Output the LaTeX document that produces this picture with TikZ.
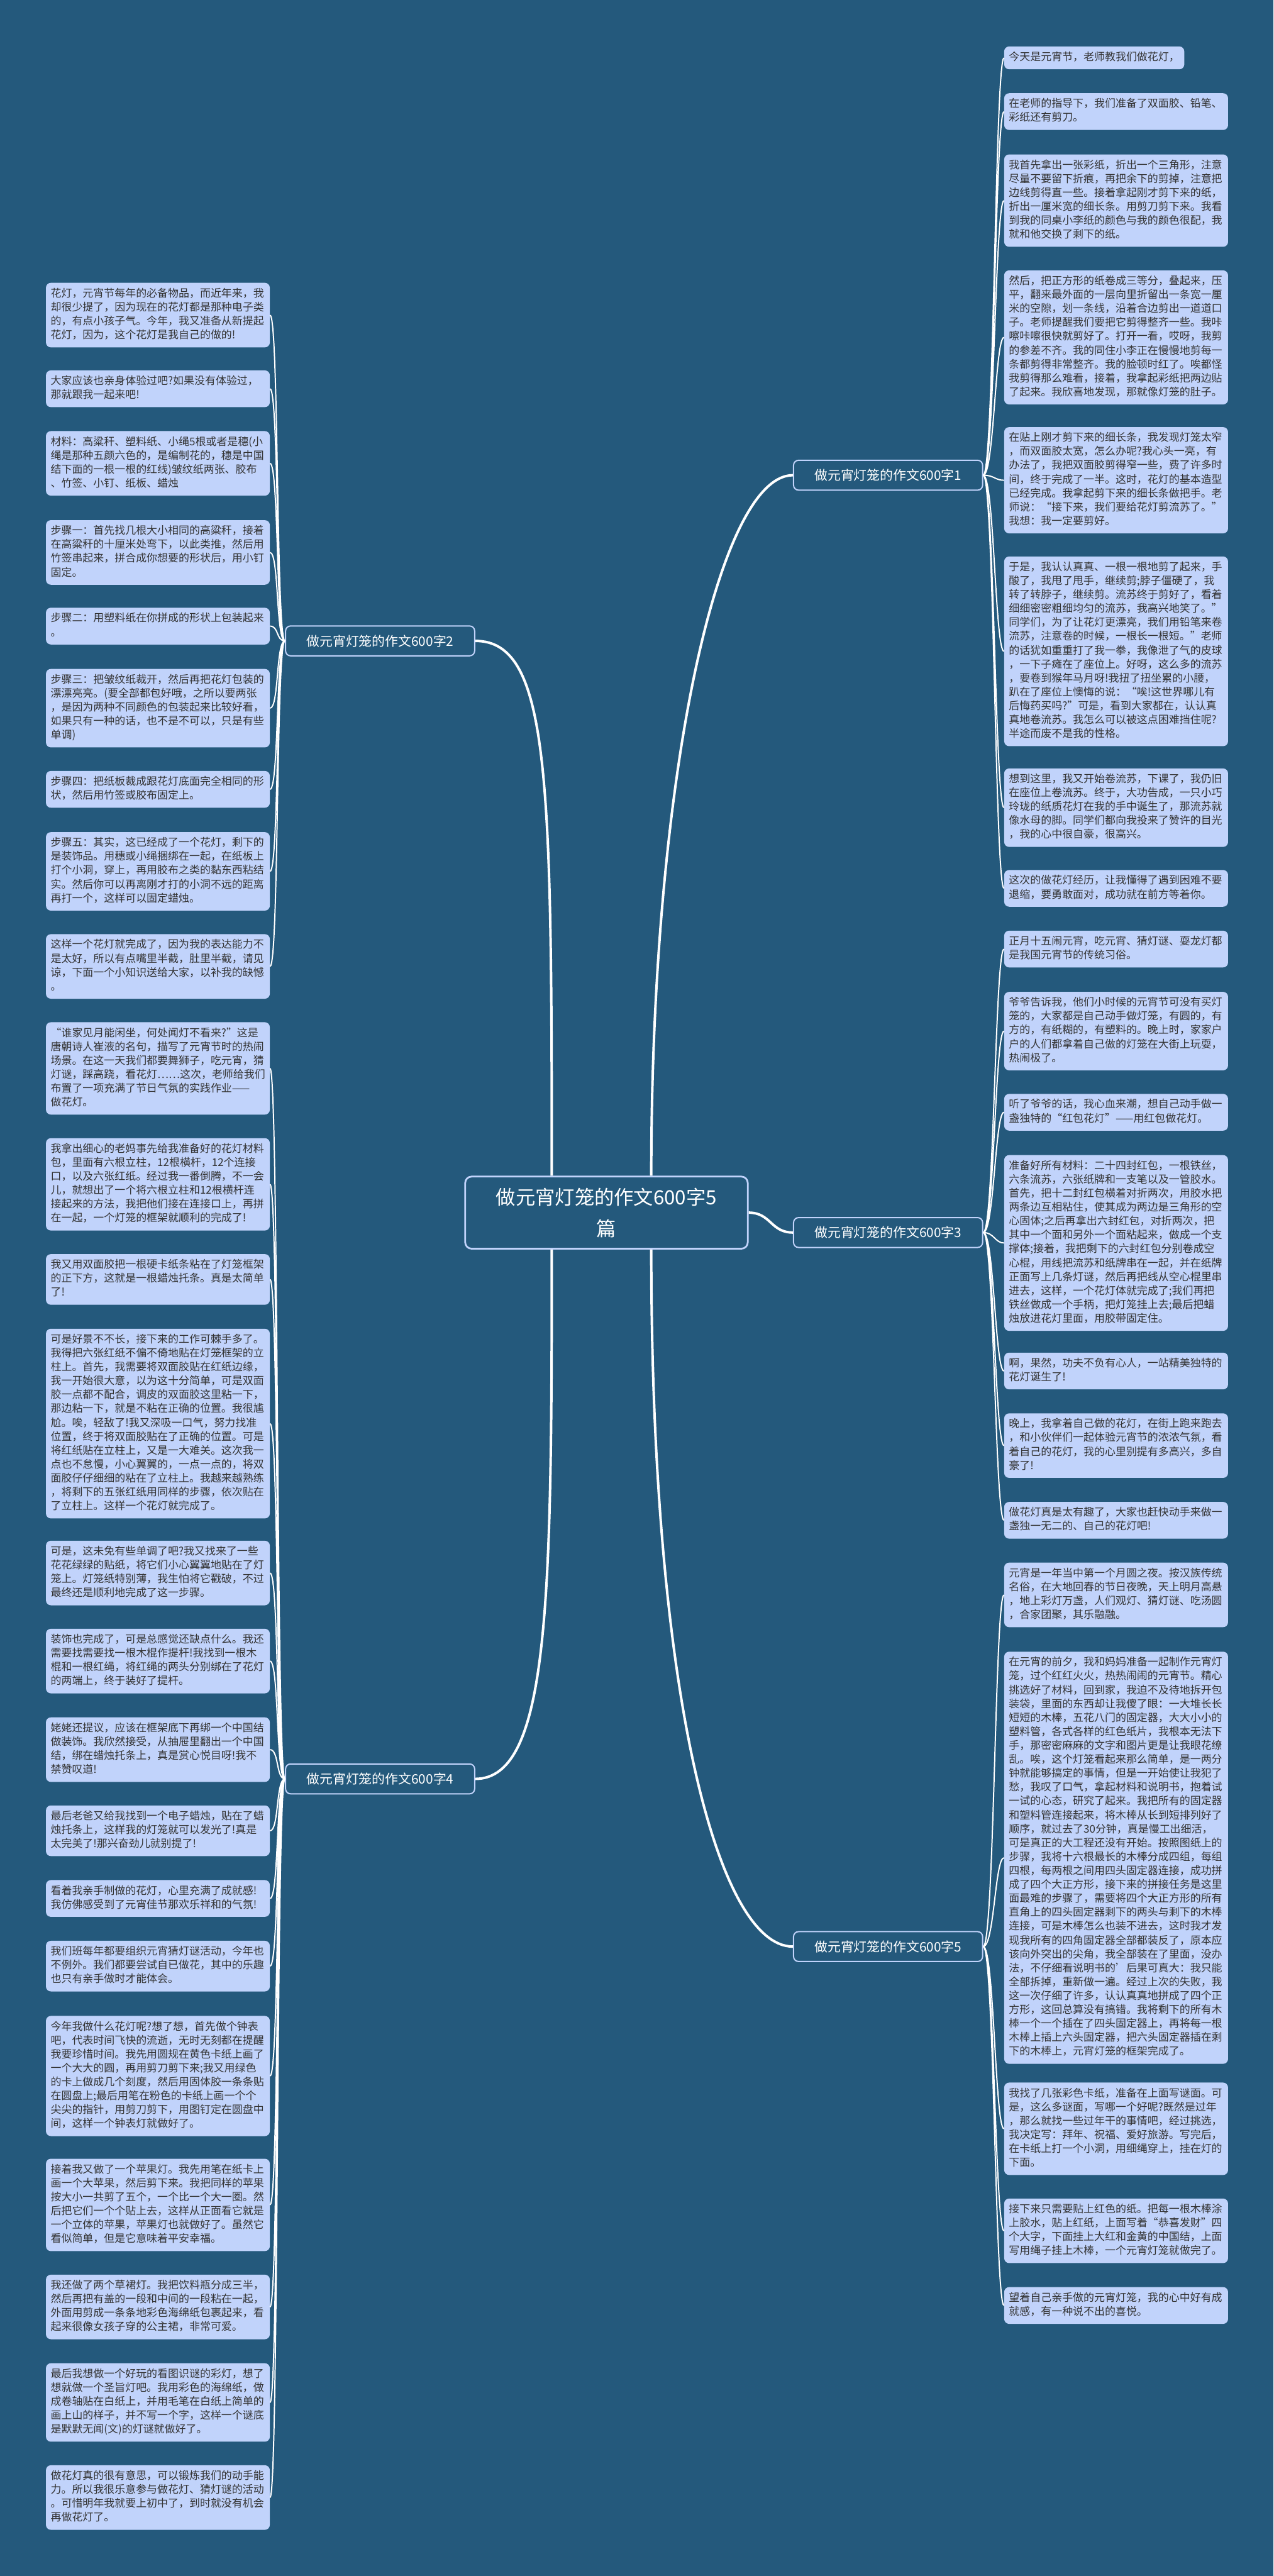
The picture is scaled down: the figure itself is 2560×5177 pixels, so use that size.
\documentclass[tikz,border=0pt]{standalone}
\usepackage{fontspec}
\setmainfont{Noto Sans CJK SC}
\usepackage{xcolor}
\usepackage{tikz}
\usetikzlibrary{positioning}

\definecolor{bgblue}{RGB}{36,89,124}
\definecolor{paperblue}{RGB}{193,211,251}
\definecolor{inkgray}{RGB}{51,51,51}

\begin{document}
\begin{tikzpicture}[
    x=0.2mm, y=-0.2mm,
    root/.style={draw=paperblue, line width=0.7mm, fill=bgblue, rounded corners=2.6mm,
                 text=white, align=center, font=\fontsize{22.5}{35.9}\selectfont,
                 minimum width=113.6mm, minimum height=29mm},
    essay/.style={draw=paperblue, line width=0.5mm, fill=bgblue, rounded corners=2mm,
                  text=white, font=\fontsize{15}{18}\selectfont,
                  minimum width=76mm, minimum height=12mm},
    para/.style={fill=paperblue, rounded corners=2mm, text=inkgray, anchor=north west,
                 font=\fontsize{12.2}{15.9}\selectfont, align=left,
                 text width=86.2mm, inner xsep=1.9mm, inner ysep=1.8mm,
                 execute at begin node=\strut, execute at end node=\strut},
    bough/.style={draw=white, line width=1mm},
    twig/.style={draw=white, line width=0.5mm}
  ]
  \fill[bgblue] (0,0) rectangle (2560,5177);
  \useasboundingbox (0,0) rectangle (2560,5177);

  \node[root] (root) at (1219,2437) {做元宵灯笼的作文600字5\\篇};
  \node[essay] (e1) at (1785,955) {做元宵灯笼的作文600字1};
  \node[essay] (e2) at (764,1288) {做元宵灯笼的作文600字2};
  \node[essay] (e3) at (1785,2477) {做元宵灯笼的作文600字3};
  \node[essay] (e4) at (764,3575) {做元宵灯笼的作文600字4};
  \node[essay] (e5) at (1785,3912) {做元宵灯笼的作文600字5};

  \node[para, text width=68.6mm] (e1p1) at (2018,93) {今天是元宵节，老师教我们做花灯，};
  \node[para] (e1p2) at (2018,187) {在老师的指导下，我们准备了双面胶、铅笔、\\
    彩纸还有剪刀。};
  \node[para] (e1p3) at (2018,310) {我首先拿出一张彩纸，折出一个三角形，注意\\
    尽量不要留下折痕，再把余下的剪掉，注意把\\
    边线剪得直一些。接着拿起刚才剪下来的纸，\\
    折出一厘米宽的细长条。用剪刀剪下来。我看\\
    到我的同桌小李纸的颜色与我的颜色很配，我\\
    就和他交换了剩下的纸。};
  \node[para] (e1p4) at (2018,543) {然后，把正方形的纸卷成三等分，叠起来，压\\
    平，翻来最外面的一层向里折留出一条宽一厘\\
    米的空隙，划一条线，沿着合边剪出一道道口\\
    子。老师提醒我们要把它剪得整齐一些。我咔\\
    嚓咔嚓很快就剪好了。打开一看，哎呀，我剪\\
    的参差不齐。我的同住小李正在慢慢地剪每一\\
    条都剪得非常整齐。我的脸顿时红了。唉都怪\\
    我剪得那么难看，接着，我拿起彩纸把两边贴\\
    了起来。我欣喜地发现，那就像灯笼的肚子。};
  \node[para] (e1p5) at (2018,858) {在贴上刚才剪下来的细长条，我发现灯笼太窄\\
    ，而双面胶太宽，怎么办呢?我心头一亮，有\\
    办法了，我把双面胶剪得窄一些，费了许多时\\
    间，终于完成了一半。这时，花灯的基本造型\\
    已经完成。我拿起剪下来的细长条做把手。老\\
    师说：“接下来，我们要给花灯剪流苏了。”\\
    我想：我一定要剪好。};
  \node[para] (e1p6) at (2018,1118) {于是，我认认真真、一根一根地剪了起来，手\\
    酸了，我甩了甩手，继续剪;脖子僵硬了，我\\
    转了转脖子，继续剪。流苏终于剪好了，看着\\
    细细密密粗细均匀的流苏，我高兴地笑了。”\\
    同学们，为了让花灯更漂亮，我们用铅笔来卷\\
    流苏，注意卷的时候，一根长一根短。”老师\\
    的话犹如重重打了我一拳，我像泄了气的皮球\\
    ，一下子瘫在了座位上。好呀，这么多的流苏\\
    ，要卷到猴年马月呀!我扭了扭坐累的小腰，\\
    趴在了座位上懊悔的说：“唉!这世界哪儿有\\
    后悔药买吗?”可是，看到大家都在，认认真\\
    真地卷流苏。我怎么可以被这点困难挡住呢?\\
    半途而废不是我的性格。};
  \node[para] (e1p7) at (2018,1544) {想到这里，我又开始卷流苏，下课了，我仍旧\\
    在座位上卷流苏。终于，大功告成，一只小巧\\
    玲珑的纸质花灯在我的手中诞生了，那流苏就\\
    像水母的脚。同学们都向我投来了赞许的目光\\
    ，我的心中很自豪，很高兴。};
  \node[para] (e1p8) at (2018,1748) {这次的做花灯经历，让我懂得了遇到困难不要\\
    退缩，要勇敢面对，成功就在前方等着你。};

  \node[para] (e2p1) at (92,568) {花灯，元宵节每年的必备物品，而近年来，我\\
    却很少提了，因为现在的花灯都是那种电子类\\
    的，有点小孩子气。今年，我又准备从新提起\\
    花灯，因为，这个花灯是我自己的做的!};
  \node[para] (e2p2) at (92,744) {大家应该也亲身体验过吧?如果没有体验过，\\
    那就跟我一起来吧!};
  \node[para] (e2p3) at (92,866) {材料：高粱秆、塑料纸、小绳5根或者是穗(小\\
    绳是那种五颜六色的，是编制花的，穗是中国\\
    结下面的一根一根的红线)皱纹纸两张、胶布\\
    、竹签、小钉、纸板、蜡烛};
  \node[para] (e2p4) at (92,1045) {步骤一：首先找几根大小相同的高粱秆，接着\\
    在高粱秆的十厘米处弯下，以此类推，然后用\\
    竹签串起来，拼合成你想要的形状后，用小钉\\
    固定。};
  \node[para] (e2p5) at (92,1221) {步骤二：用塑料纸在你拼成的形状上包装起来\\
    。};
  \node[para] (e2p6) at (92,1344) {步骤三：把皱纹纸裁开，然后再把花灯包装的\\
    漂漂亮亮。(要全部都包好哦，之所以要两张\\
    ，是因为两种不同颜色的包装起来比较好看，\\
    如果只有一种的话，也不是不可以，只是有些\\
    单调)};
  \node[para] (e2p7) at (92,1549) {步骤四：把纸板裁成跟花灯底面完全相同的形\\
    状，然后用竹签或胶布固定上。};
  \node[para] (e2p8) at (92,1672) {步骤五：其实，这已经成了一个花灯，剩下的\\
    是装饰品。用穗或小绳捆绑在一起，在纸板上\\
    打个小洞，穿上，再用胶布之类的黏东西粘结\\
    实。然后你可以再离刚才打的小洞不远的距离\\
    再打一个，这样可以固定蜡烛。};
  \node[para] (e2p9) at (92,1877) {这样一个花灯就完成了，因为我的表达能力不\\
    是太好，所以有点嘴里半截，肚里半截，请见\\
    谅，下面一个小知识送给大家，以补我的缺憾\\
    。};

  \node[para] (e3p1) at (2018,1870) {正月十五闹元宵，吃元宵、猜灯谜、耍龙灯都\\
    是我国元宵节的传统习俗。};
  \node[para] (e3p2) at (2018,1993) {爷爷告诉我，他们小时候的元宵节可没有买灯\\
    笼的，大家都是自己动手做灯笼，有圆的，有\\
    方的，有纸糊的，有塑料的。晚上时，家家户\\
    户的人们都拿着自己做的灯笼在大街上玩耍，\\
    热闹极了。};
  \node[para] (e3p3) at (2018,2198) {听了爷爷的话，我心血来潮，想自己动手做一\\
    盏独特的“红包花灯”——用红包做花灯。};
  \node[para] (e3p4) at (2018,2321) {准备好所有材料：二十四封红包，一根铁丝，\\
    六条流苏，六张纸牌和一支笔以及一管胶水。\\
    首先，把十二封红包横着对折两次，用胶水把\\
    两条边互相粘住，使其成为两边是三角形的空\\
    心固体;之后再拿出六封红包，对折两次，把\\
    其中一个面和另外一个面粘起来，做成一个支\\
    撑体;接着，我把剩下的六封红包分别卷成空\\
    心棍，用线把流苏和纸牌串在一起，并在纸牌\\
    正面写上几条灯谜，然后再把线从空心棍里串\\
    进去，这样，一个花灯体就完成了;我们再把\\
    铁丝做成一个手柄，把灯笼挂上去;最后把蜡\\
    烛放进花灯里面，用胶带固定住。};
  \node[para] (e3p5) at (2018,2718) {啊，果然，功夫不负有心人，一站精美独特的\\
    花灯诞生了!};
  \node[para] (e3p6) at (2018,2840) {晚上，我拿着自己做的花灯，在街上跑来跑去\\
    ，和小伙伴们一起体验元宵节的浓浓气氛，看\\
    着自己的花灯，我的心里别提有多高兴，多自\\
    豪了!};
  \node[para] (e3p7) at (2018,3018) {做花灯真是太有趣了，大家也赶快动手来做一\\
    盏独一无二的、自己的花灯吧!};

  \node[para] (e4p1) at (92,2054) {“谁家见月能闲坐，何处闻灯不看来?”这是\\
    唐朝诗人崔液的名句，描写了元宵节时的热闹\\
    场景。在这一天我们都要舞狮子，吃元宵，猜\\
    灯谜，踩高跷，看花灯……这次，老师给我们\\
    布置了一项充满了节日气氛的实践作业——\\
    做花灯。};
  \node[para] (e4p2) at (92,2287) {我拿出细心的老妈事先给我准备好的花灯材料\\
    包，里面有六根立柱，12根横杆，12个连接\\
    口，以及六张红纸。经过我一番倒腾，不一会\\
    儿，就想出了一个将六根立柱和12根横杆连\\
    接起来的方法，我把他们接在连接口上，再拼\\
    在一起，一个灯笼的框架就顺利的完成了!};
  \node[para] (e4p3) at (92,2520) {我又用双面胶把一根硬卡纸条粘在了灯笼框架\\
    的正下方，这就是一根蜡烛托条。真是太简单\\
    了!};
  \node[para] (e4p4) at (92,2670) {可是好景不不长，接下来的工作可棘手多了。\\
    我得把六张红纸不偏不倚地贴在灯笼框架的立\\
    柱上。首先，我需要将双面胶贴在红纸边缘，\\
    我一开始很大意，以为这十分简单，可是双面\\
    胶一点都不配合，调皮的双面胶这里粘一下，\\
    那边粘一下，就是不粘在正确的位置。我很尴\\
    尬。唉，轻敌了!我又深吸一口气，努力找准\\
    位置，终于将双面胶贴在了正确的位置。可是\\
    将红纸贴在立柱上，又是一大难关。这次我一\\
    点也不怠慢，小心翼翼的，一点一点的，将双\\
    面胶仔仔细细的粘在了立柱上。我越来越熟练\\
    ，将剩下的五张红纸用同样的步骤，依次贴在\\
    了立柱上。这样一个花灯就完成了。};
  \node[para] (e4p5) at (92,3096) {可是，这未免有些单调了吧?我又找来了一些\\
    花花绿绿的贴纸，将它们小心翼翼地贴在了灯\\
    笼上。灯笼纸特别薄，我生怕将它戳破，不过\\
    最终还是顺利地完成了这一步骤。};
  \node[para] (e4p6) at (92,3273) {装饰也完成了，可是总感觉还缺点什么。我还\\
    需要找需要找一根木棍作提杆!我找到一根木\\
    棍和一根红绳，将红绳的两头分别绑在了花灯\\
    的两端上，终于装好了提杆。};
  \node[para] (e4p7) at (92,3451) {姥姥还提议，应该在框架底下再绑一个中国结\\
    做装饰。我欣然接受，从抽屉里翻出一个中国\\
    结，绑在蜡烛托条上，真是赏心悦目呀!我不\\
    禁赞叹道!};
  \node[para] (e4p8) at (92,3628) {最后老爸又给我找到一个电子蜡烛，贴在了蜡\\
    烛托条上，这样我的灯笼就可以发光了!真是\\
    太完美了!那兴奋劲儿就别提了!};
  \node[para] (e4p9) at (92,3778) {看着我亲手制做的花灯，心里充满了成就感!\\
    我仿佛感受到了元宵佳节那欢乐祥和的气氛!};
  \node[para] (e4p10) at (92,3900) {我们班每年都要组织元宵猜灯谜活动，今年也\\
    不例外。我们都要尝试自已做花，其中的乐趣\\
    也只有亲手做时才能体会。};
  \node[para] (e4p11) at (92,4051) {今年我做什么花灯呢?想了想，首先做个钟表\\
    吧，代表时间飞快的流逝，无时无刻都在提醒\\
    我要珍惜时间。我先用圆规在黄色卡纸上画了\\
    一个大大的圆，再用剪刀剪下来;我又用绿色\\
    的卡上做成几个刻度，然后用固体胶一条条贴\\
    在圆盘上;最后用笔在粉色的卡纸上画一个个\\
    尖尖的指针，用剪刀剪下，用图钉定在圆盘中\\
    间，这样一个钟表灯就做好了。};
  \node[para] (e4p12) at (92,4338) {接着我又做了一个苹果灯。我先用笔在纸卡上\\
    画一个大苹果，然后剪下来。我把同样的苹果\\
    按大小一共剪了五个，一个比一个大一圈。然\\
    后把它们一个个贴上去，这样从正面看它就是\\
    一个立体的苹果，苹果灯也就做好了。虽然它\\
    看似简单，但是它意味着平安幸福。};
  \node[para] (e4p13) at (92,4571) {我还做了两个草裙灯。我把饮料瓶分成三半，\\
    然后再把有盖的一段和中间的一段粘在一起，\\
    外面用剪成一条条地彩色海绵纸包裹起来，看\\
    起来很像女孩子穿的公主裙，非常可爱。};
  \node[para] (e4p14) at (92,4749) {最后我想做一个好玩的看图识谜的彩灯，想了\\
    想就做一个圣旨灯吧。我用彩色的海绵纸，做\\
    成卷轴贴在白纸上，并用毛笔在白纸上简单的\\
    画上山的样子，并不写一个字，这样一个谜底\\
    是默默无闻(文)的灯谜就做好了。};
  \node[para] (e4p15) at (92,4954) {做花灯真的很有意思，可以锻炼我们的动手能\\
    力。所以我很乐意参与做花灯、猜灯谜的活动\\
    。可惜明年我就要上初中了，到时就没有机会\\
    再做花灯了。};

  \node[para] (e5p1) at (2018,3140) {元宵是一年当中第一个月圆之夜。按汉族传统\\
    名俗，在大地回春的节日夜晚，天上明月高悬\\
    ，地上彩灯万盏，人们观灯、猜灯谜、吃汤圆\\
    ，合家团聚，其乐融融。};
  \node[para] (e5p2) at (2018,3319) {在元宵的前夕，我和妈妈准备一起制作元宵灯\\
    笼，过个红红火火，热热闹闹的元宵节。精心\\
    挑选好了材料，回到家，我迫不及待地拆开包\\
    装袋，里面的东西却让我傻了眼：一大堆长长\\
    短短的木棒，五花八门的固定器，大大小小的\\
    塑料管，各式各样的红色纸片，我根本无法下\\
    手，那密密麻麻的文字和图片更是让我眼花缭\\
    乱。唉，这个灯笼看起来那么简单，是一两分\\
    钟就能够搞定的事情，但是一开始使让我犯了\\
    愁，我叹了口气，拿起材料和说明书，抱着试\\
    一试的心态，研究了起来。我把所有的固定器\\
    和塑料管连接起来，将木棒从长到短排列好了\\
    顺序，就过去了30分钟，真是慢工出细活，\\
    可是真正的大工程还没有开始。按照图纸上的\\
    步骤，我将十六根最长的木棒分成四组，每组\\
    四根，每两根之间用四头固定器连接，成功拼\\
    成了四个大正方形，接下来的拼接任务是这里\\
    面最难的步骤了，需要将四个大正方形的所有\\
    直角上的四头固定器剩下的两头与剩下的木棒\\
    连接，可是木棒怎么也装不进去，这时我才发\\
    现我所有的四角固定器全部都装反了，原本应\\
    该向外突出的尖角，我全部装在了里面，没办\\
    法，不仔细看说明书的'后果可真大：我只能\\
    全部拆掉，重新做一遍。经过上次的失败，我\\
    这一次仔细了许多，认认真真地拼成了四个正\\
    方形，这回总算没有搞错。我将剩下的所有木\\
    棒一个一个插在了四头固定器上，再将每一根\\
    木棒上插上六头固定器，把六头固定器插在剩\\
    下的木棒上，元宵灯笼的框架完成了。};
  \node[para] (e5p3) at (2018,4185) {我找了几张彩色卡纸，准备在上面写谜面。可\\
    是，这么多谜面，写哪一个好呢?既然是过年\\
    ，那么就找一些过年干的事情吧，经过挑选，\\
    我决定写：拜年、祝福、爱好旅游。写完后，\\
    在卡纸上打一个小洞，用细绳穿上，挂在灯的\\
    下面。};
  \node[para] (e5p4) at (2018,4418) {接下来只需要贴上红色的纸。把每一根木棒涂\\
    上胶水，贴上红纸，上面写着“恭喜发财”四\\
    个大字，下面挂上大红和金黄的中国结，上面\\
    写用绳子挂上木棒，一个元宵灯笼就做完了。};
  \node[para] (e5p5) at (2018,4596) {望着自己亲手做的元宵灯笼，我的心中好有成\\
    就感，有一种说不出的喜悦。};

  \draw[bough] ([xshift=18mm]root.north) .. controls +(0,-800) and +(-150,0) .. (e1.west);
  \draw[bough] ([xshift=-22mm]root.north) .. controls +(0,-800) and +(150,0) .. (e2.east);
  \draw[bough] (root.east) .. controls +(45,0) and +(-45,0) .. (e3.west);
  \draw[bough] ([xshift=-22mm]root.south) .. controls +(0,700) and +(150,0) .. (e4.east);
  \draw[bough] ([xshift=18mm]root.south) .. controls +(0,900) and +(-150,0) .. (e5.west);

  \draw[twig] (e1.east) .. controls +(22,0) and +(-18,0) .. (e1p1.west)
              (e1.east) .. controls +(22,0) and +(-18,0) .. (e1p2.west)
              (e1.east) .. controls +(22,0) and +(-18,0) .. (e1p3.west)
              (e1.east) .. controls +(22,0) and +(-18,0) .. (e1p4.west)
              (e1.east) .. controls +(22,0) and +(-18,0) .. (e1p5.west)
              (e1.east) .. controls +(22,0) and +(-18,0) .. (e1p6.west)
              (e1.east) .. controls +(22,0) and +(-18,0) .. (e1p7.west)
              (e1.east) .. controls +(22,0) and +(-18,0) .. (e1p8.west);
  \draw[twig] (e2.west) .. controls +(-18,0) and +(18,0) .. (e2p1.east)
              (e2.west) .. controls +(-18,0) and +(18,0) .. (e2p2.east)
              (e2.west) .. controls +(-18,0) and +(18,0) .. (e2p3.east)
              (e2.west) .. controls +(-18,0) and +(18,0) .. (e2p4.east)
              (e2.west) .. controls +(-18,0) and +(18,0) .. (e2p5.east)
              (e2.west) .. controls +(-18,0) and +(18,0) .. (e2p6.east)
              (e2.west) .. controls +(-18,0) and +(18,0) .. (e2p7.east)
              (e2.west) .. controls +(-18,0) and +(18,0) .. (e2p8.east)
              (e2.west) .. controls +(-18,0) and +(18,0) .. (e2p9.east);
  \draw[twig] (e3.east) .. controls +(22,0) and +(-18,0) .. (e3p1.west)
              (e3.east) .. controls +(22,0) and +(-18,0) .. (e3p2.west)
              (e3.east) .. controls +(22,0) and +(-18,0) .. (e3p3.west)
              (e3.east) .. controls +(22,0) and +(-18,0) .. (e3p4.west)
              (e3.east) .. controls +(22,0) and +(-18,0) .. (e3p5.west)
              (e3.east) .. controls +(22,0) and +(-18,0) .. (e3p6.west)
              (e3.east) .. controls +(22,0) and +(-18,0) .. (e3p7.west);
  \draw[twig] (e4.west) .. controls +(-18,0) and +(18,0) .. (e4p1.east)
              (e4.west) .. controls +(-18,0) and +(18,0) .. (e4p2.east)
              (e4.west) .. controls +(-18,0) and +(18,0) .. (e4p3.east)
              (e4.west) .. controls +(-18,0) and +(18,0) .. (e4p4.east)
              (e4.west) .. controls +(-18,0) and +(18,0) .. (e4p5.east)
              (e4.west) .. controls +(-18,0) and +(18,0) .. (e4p6.east)
              (e4.west) .. controls +(-18,0) and +(18,0) .. (e4p7.east)
              (e4.west) .. controls +(-18,0) and +(18,0) .. (e4p8.east)
              (e4.west) .. controls +(-18,0) and +(18,0) .. (e4p9.east)
              (e4.west) .. controls +(-18,0) and +(18,0) .. (e4p10.east)
              (e4.west) .. controls +(-18,0) and +(18,0) .. (e4p11.east)
              (e4.west) .. controls +(-18,0) and +(18,0) .. (e4p12.east)
              (e4.west) .. controls +(-18,0) and +(18,0) .. (e4p13.east)
              (e4.west) .. controls +(-18,0) and +(18,0) .. (e4p14.east)
              (e4.west) .. controls +(-18,0) and +(18,0) .. (e4p15.east);
  \draw[twig] (e5.east) .. controls +(22,0) and +(-18,0) .. (e5p1.west)
              (e5.east) .. controls +(22,0) and +(-18,0) .. (e5p2.west)
              (e5.east) .. controls +(22,0) and +(-18,0) .. (e5p3.west)
              (e5.east) .. controls +(22,0) and +(-18,0) .. (e5p4.west)
              (e5.east) .. controls +(22,0) and +(-18,0) .. (e5p5.west);
\end{tikzpicture}
\end{document}
